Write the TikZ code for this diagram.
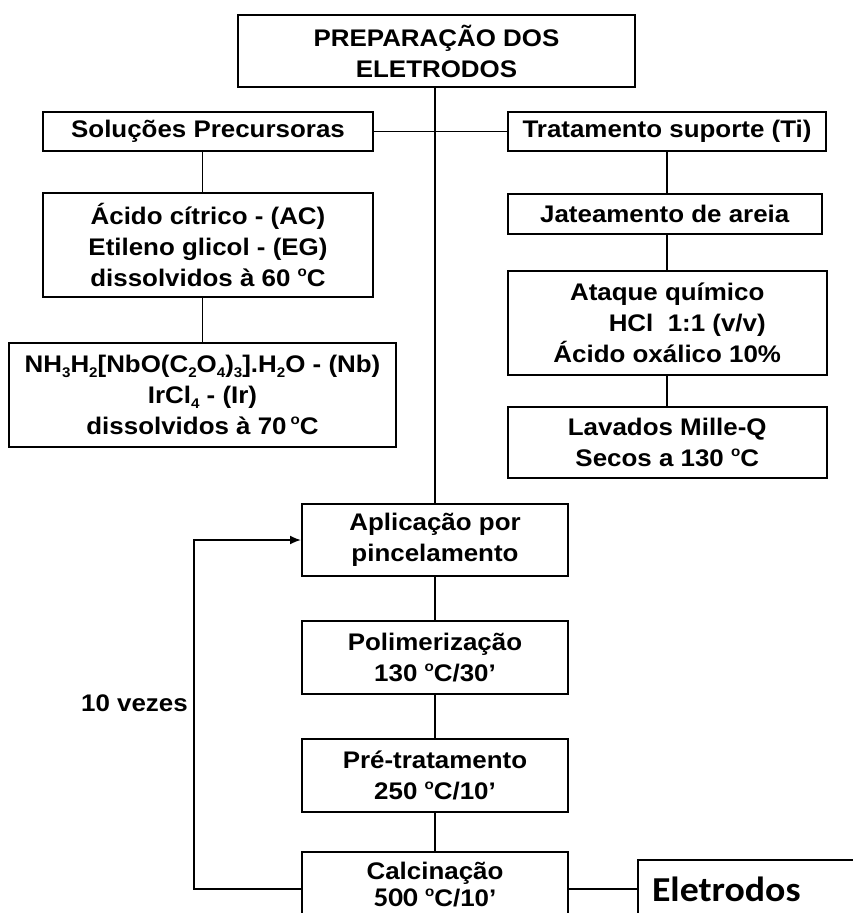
\documentclass[tikz,border=0pt]{standalone}
\usepackage{fontspec}
\setmainfont{Liberation Sans}[FakeStretch=1.08]
\newfontfamily\calibri{Carlito}[FakeStretch=1.08]
\usetikzlibrary{positioning,arrows.meta}
\newcommand\chemsub[1]{\raisebox{-0.4ex}{\fontsize{14}{14}\selectfont #1}}
\newcommand\degsup{\raisebox{0.8ex}{\fontsize{14}{14}\selectfont o}}

\begin{document}
\begin{tikzpicture}[
  x=1pt, y=1pt,
  every node/.style={font=\fontsize{24}{31}\selectfont\bfseries},
  pbox/.style={rectangle, draw, line width=2pt, align=center, inner sep=1pt},
  lnk/.style={line width=1.8pt},
  arr/.style={-{Latex[length=11pt,width=9pt]}, line width=1.8pt}
]
\useasboundingbox (0,0) rectangle (853,-913);

\node[pbox, minimum width=397pt, minimum height=72pt] (prep) at (436.5,-51) {PREPARAÇÃO DOS\\ELETRODOS};
\node[pbox, minimum width=330pt, minimum height=39pt] (sol)  at (208,-131.5) {Soluções Precursoras};
\node[pbox, minimum width=318.5pt, minimum height=39pt] (trat) at (667,-131.5) {Tratamento suporte (Ti)};

\node[pbox, minimum width=330pt, minimum height=104pt, below=40pt of sol] (acido)
  {Ácido cítrico - (AC)\\Etileno glicol - (EG)\\dissolvidos à 60 \degsup C};
\node[pbox, minimum width=387pt, minimum height=104pt, below=44pt of acido, xshift=-5.5pt] (nb)
  {NH\chemsub{3}H\chemsub{2}[NbO(C\chemsub{2}O\chemsub{4})\chemsub{3}].H\chemsub{2}O - (Nb)\\IrCl\chemsub{4} - (Ir)\\dissolvidos à 70\,\degsup C};

\node[pbox, minimum width=314pt, minimum height=40pt, below=41pt of trat.south west, anchor=north west] (jat) {Jateamento de areia};
\node[pbox, minimum width=319pt, minimum height=104pt, below=35pt of jat.south west, anchor=north west] (ataq)
  {Ataque químico\\\hspace*{40pt}HCl\ \ 1:1 (v/v)\\Ácido oxálico 10\%};
\node[pbox, minimum width=319pt, minimum height=71pt, below=30pt of ataq] (lav) {Lavados Mille-Q\\Secos a 130 \degsup C};

\node[pbox, minimum width=266pt, minimum height=72pt] (apl) at (435,-540) {Aplicação por\\pincelamento};
\node[pbox, minimum width=266pt, minimum height=73pt, below=43pt of apl] (pol) {Polimerização\\130 \degsup C/30’};
\node[pbox, minimum width=266pt, minimum height=73pt, below=43pt of pol] (pre) {Pré-tratamento\\250 \degsup C/10’};
\node[pbox, minimum width=266pt, minimum height=74pt, text depth=9pt, below=38pt of pre, font=\fontsize{24}{27}\selectfont\bfseries] (calc)
  {Calcinação\\{\calibri\fontsize{27}{27}\selectfont 500} \degsup C/10’};
\node[pbox, text width=240pt, align=left, inner xsep=14pt, minimum height=58pt, right=68pt of calc,
      font=\fontsize{35}{40}\selectfont\bfseries\calibri] (eletr) {Eletrodos};

\node[anchor=east, inner sep=0pt] (vezes) at (188,-703) {10 vezes};

\draw[lnk] (apl.north |- prep.south) -- (apl.north);
\draw[lnk] (sol) -- (trat);
\draw[lnk] (sol.south -| nb.north) -- (acido.north -| nb.north);
\draw[lnk] (acido.south -| nb.north) -- (nb.north);
\draw[lnk] (trat.south) -- (trat.south |- jat.north);
\draw[lnk] (trat.south |- jat.south) -- (trat.south |- ataq.north);
\draw[lnk] (trat.south |- ataq.south) -- (trat.south |- lav.north);
\draw[lnk] (apl) -- (pol);
\draw[lnk] (pol) -- (pre);
\draw[lnk] (pre) -- (calc);
\draw[lnk] (calc) -- (eletr);
\draw[arr] (calc.west) -- ++(-107,0) |- (apl.west);

\end{tikzpicture}
\end{document}
